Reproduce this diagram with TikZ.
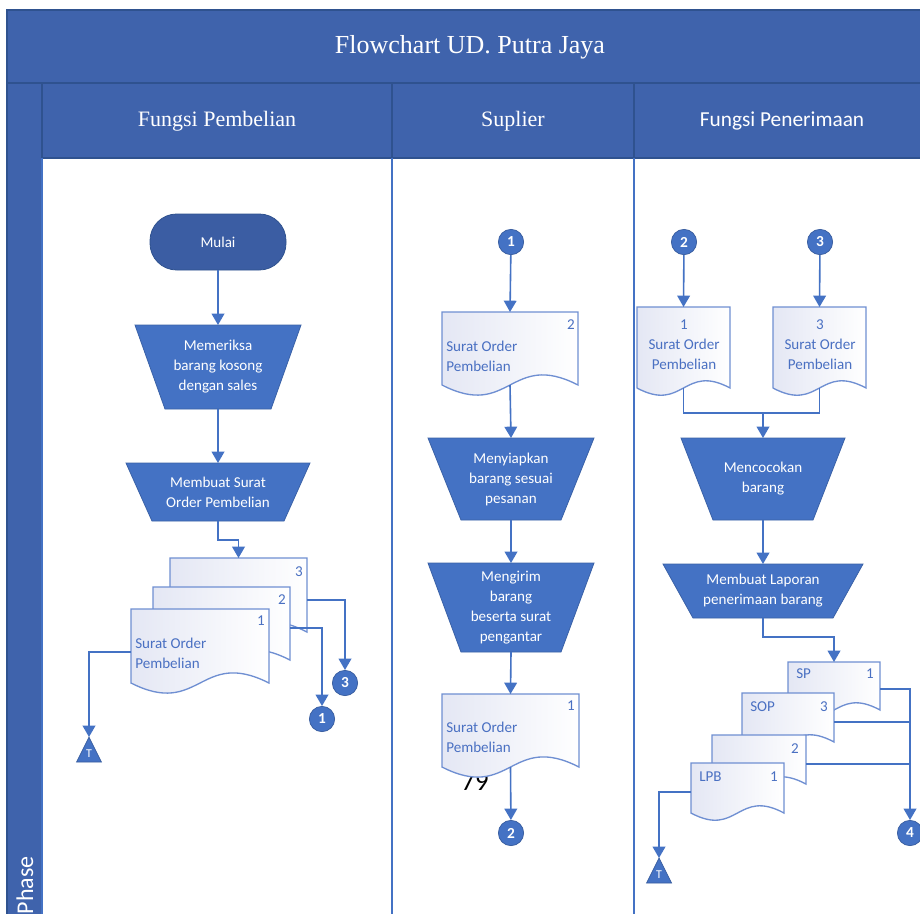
\documentclass[tikz,border=0pt]{standalone}
\usepackage{fontspec}
\setmainfont{Carlito}
\newfontfamily\seriffont{Liberation Serif}
\usetikzlibrary{arrows.meta}
\definecolor{hdr}{HTML}{3F63AC}
\definecolor{hdrline}{HTML}{2F528F}
\definecolor{shp}{HTML}{4472C4}
\definecolor{termc}{HTML}{3B5DA3}
\definecolor{docline}{HTML}{6F8FD2}
\definecolor{doctext}{HTML}{4A70C2}
\definecolor{docshade}{HTML}{E4E7F4}
\tikzset{
 cline/.style={draw=shp, line width=1.2pt},
 arr/.style={cline, -{Triangle[width=9.5pt,length=8.5pt]}},
 proc/.style={fill=shp, draw=shp!85!black, line width=0.6pt},
 docsty/.style={draw=docline, line width=1pt, left color=docshade, right color=white},
 ptext/.style={text=white, font=\fontsize{11.3}{15}\selectfont, align=center, inner sep=0},
 dtext/.style={text=doctext, font=\fontsize{11.3}{15}\selectfont, align=left, inner sep=0},
 ctext/.style={text=doctext, font=\fontsize{11.3}{15}\selectfont, align=center, inner sep=0},
 conn/.style={circle, fill=shp, draw=shp!80!black, line width=0.5pt, minimum size=19pt, inner sep=0, text=white, font=\bfseries\fontsize{11.5}{12}\selectfont},
 termsty/.style={fill=termc, draw=hdrline, line width=0.6pt, rounded corners=20pt, minimum width=102pt, minimum height=42pt, text=white, font=\fontsize{11.3}{13}\selectfont},
 divider/.style={draw=shp, line width=1.1pt},
}
\newcommand\Trap[7]{%
 \path[proc] ({#2-#5},#3) -- ({#2+#5},#3) -- ({#2+#6},#4) -- ({#2-#6},#4) -- cycle;
 \coordinate (#1-n) at (#2,#3);
 \coordinate (#1-s) at (#2,#4);
 \node[ptext] (#1) at (#2,{(#3+#4)/2}) {#7};
}
\newcommand\Doc[6]{%
 \path[docsty] (#2,#4) -- (#3,#4) -- (#3,#5) .. controls ({(#2+#3)/2},{#5-#6}) and ({(#2+#3)/2},{#5+#6}) .. (#2,#5) -- cycle;
 \coordinate (#1-n) at ({(#2+#3)/2},#4);
 \coordinate (#1-s) at ({(#2+#3)/2},#5);
}
\newcommand\Tri[3]{%
 \path[fill=shp, draw=shp!80!black, line width=0.5pt] (#2,#3) -- ({#2+12.5},{#3+25}) -- ({#2-12.5},{#3+25}) -- cycle;
 \coordinate (#1) at (#2,#3);
 \node[text=white, font=\fontsize{9}{10}\selectfont, inner sep=0] (#1-t) at (#2,{#3+17}) {T};
}
\begin{document}
\begin{tikzpicture}[x=0.75pt,y=-0.75pt]
\useasboundingbox[fill=white] (0,0) rectangle (920,914);
% frame
\fill[hdr] (7,10) rectangle (920,83);
\fill[hdr] (42,83) rectangle (920,158);
\fill[hdr] (7,83) rectangle (42,914);
\draw[hdrline, line width=0.8pt] (7,10) rectangle (925,83);
\draw[hdrline, line width=0.8pt] (7,83) -- (7,914);
\draw[hdrline, line width=0.8pt] (42,83) -- (42,158);
\draw[hdrline, line width=0.8pt] (42,158) -- (920,158);
\draw[hdrline, line width=0.8pt] (392,83) -- (392,158);
\draw[hdrline, line width=0.8pt] (634,83) -- (634,158);
\draw[divider] (42,158) -- (42,914);
\draw[divider] (392,158) -- (392,914);
\draw[divider] (634,158) -- (634,914);
\node[text=white, font=\seriffont\fontsize{19.5}{22}\selectfont] (title) at (470,47) {Flowchart UD. Putra Jaya};
\node[text=white, font=\seriffont\fontsize{16.5}{19}\selectfont] (hp) at (217,121) {Fungsi Pembelian};
\node[text=white, font=\seriffont\fontsize{16.5}{19}\selectfont] (hs) at (513,121) {Suplier};
\node[text=white, font=\fontsize{16}{19}\selectfont] (hr) at (782,121) {Fungsi Penerimaan};
\node[text=white, font=\fontsize{18}{20}\selectfont, rotate=90, anchor=base east, inner sep=0] (phase) at (33,856) {Phase};

% ---------- Fungsi Pembelian ----------
\node[termsty] (mulai) at (218,242) {Mulai};
\Trap{m1}{218}{325}{409}{83}{53}{Memeriksa\\barang kosong\\dengan sales}
\Trap{m2}{218}{463}{521}{92}{66}{Membuat Surat\\Order Pembelian}
\draw[arr] (mulai) -- (m1-n);
\draw[arr] (m1-s) -- (m2-n);
\Doc{pd3}{170}{307}{558}{632}{35}
\Doc{pd2}{153}{290}{587}{660}{35}
\Doc{pd1}{131}{269}{609}{683}{35}
\node[dtext, anchor=north east] (pd3l) at (303,566) {3};
\node[dtext, anchor=north east] (pd2l) at (286,594) {2};
\node[dtext, anchor=north east] (pd1l) at (265,616) {1};
\node[dtext, anchor=west] (pd1t) at (135,653) {Surat Order\\Pembelian};
\draw[arr] (m2-s) -- ++(0,19) -| (pd3-n);
\node[conn] (pc3) at (345,683) {3};
\node[conn] (pc1) at (322,719) {1};
\Tri{pt}{89}{737}
\coordinate (pd3r) at (307,600);
\coordinate (pd2r) at (290,628);
\coordinate (pd1l) at (131,652);
\draw[arr] (pd3r) -| (pc3);
\draw[arr] (pd2r) -| (pc1);
\draw[arr] (pd1l) -| (pt);

% ---------- Suplier ----------
\node[conn] (sc1) at (511,242) {1};
\Doc{sd1}{442}{578}{312}{385}{35}
\node[dtext, anchor=north east] (sd1l) at (575,319) {2};
\node[dtext, anchor=west] (sd1t) at (446,356) {Surat Order\\Pembelian};
\Trap{s1}{511}{438}{520}{83}{50}{Menyiapkan\\barang sesuai\\pesanan}
\Trap{s2}{511}{563}{652}{83}{50}{Mengirim\\barang\\beserta surat\\pengantar}
\node[font=\fontsize{20}{21}\selectfont, text=black] (pg) at (475,782) {79};
\Doc{sd2}{442}{579}{694}{767}{35}
\node[dtext, anchor=north east] (sd2l) at (575,701) {1};
\node[dtext, anchor=west] (sd2t) at (446,737) {Surat Order\\Pembelian};
\node[conn] (sc2) at (511,833) {2};
\draw[arr] (sc1) -- (sd1-n);
\draw[arr] (sd1-s) -- (s1-n);
\draw[arr] (s1-s) -- (s2-n);
\draw[arr] (s2-s) -- (sd2-n);
\draw[arr] (sd2-s) -- (sc2);

% ---------- Fungsi Penerimaan ----------
\node[conn] (rc2) at (684,242) {2};
\node[conn] (rc3) at (820,242) {3};
\Doc{ra}{637}{730}{307}{388}{25}
\Doc{rb}{773}{866}{307}{388}{25}
\node[ctext] (rat) at (684,345) {1\\Surat Order\\Pembelian};
\node[ctext] (rbt) at (820,345) {3\\Surat Order\\Pembelian};
\draw[arr] (rc2) -- (ra-n);
\draw[arr] (rc3) -- (rb-n);
\Trap{r1}{763}{438}{520}{82}{50}{Mencocokan\\barang}
\Trap{r2}{763}{564}{618}{100}{70}{Membuat Laporan\\penerimaan barang}
\coordinate (rj) at (763,413);
\draw[cline] (ra-s) -- ++(0,25) -| (rb-s);
\draw[arr] (rj) -- (r1-n);
\draw[arr] (r1-s) -- (r2-n);
\Doc{rsp}{788}{880}{662}{710}{25}
\Doc{rsop}{742}{834}{693}{742}{25}
\Doc{rd2}{712}{806}{735}{784}{25}
\Doc{rlpb}{691}{784}{763}{813}{25}
\node[dtext, anchor=west] (rspt) at (796,674) {SP};
\node[dtext, anchor=east] (rspn) at (874,674) {1};
\node[dtext, anchor=west] (rsopt) at (750,707) {SOP};
\node[dtext, anchor=east] (rsopn) at (828,707) {3};
\node[dtext, anchor=east] (rd2n) at (799,749) {2};
\node[dtext, anchor=west] (rlpbt) at (699,777) {LPB};
\node[dtext, anchor=east] (rlpbn) at (778,777) {1};
\draw[arr] (r2-s) -- ++(0,19) -| (rsp-n);
\node[conn] (rc4) at (910,833) {4};
\Tri{rt}{659}{858}
\coordinate (rspr) at (880,689);
\coordinate (rsopr) at (834,722);
\coordinate (rd2r) at (806,764);
\coordinate (rlpbl) at (691,792);
\draw[arr] (rspr) -| (rc4);
\draw[cline] (rsopr) -- (rsopr -| rc4);
\draw[cline] (rd2r) -- (rd2r -| rc4);
\draw[arr] (rlpbl) -| (rt);
\end{tikzpicture}
\end{document}
